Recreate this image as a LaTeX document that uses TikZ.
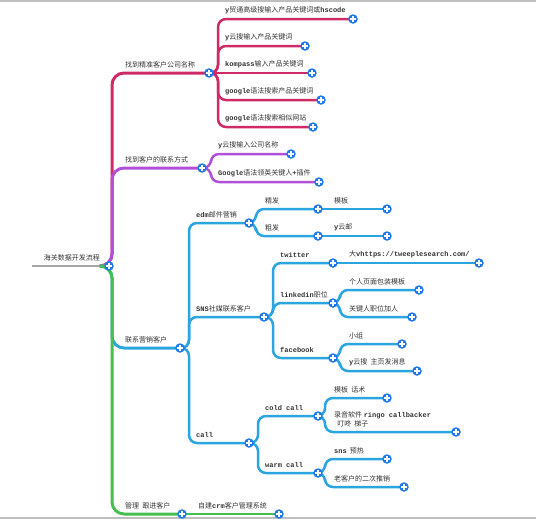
\documentclass[tikz,border=0pt]{standalone}
\usepackage{fontspec}
\setmainfont{Noto Sans CJK SC}
\newfontfamily\latfont{Liberation Mono}
\usepackage{xcolor}
\usetikzlibrary{calc, backgrounds}

\definecolor{rosebr}{HTML}{D02A66}
\definecolor{violetbr}{HTML}{B050D8}
\definecolor{skybr}{HTML}{2AA5E0}
\definecolor{greenbr}{HTML}{46BE50}
\definecolor{plusblue}{HTML}{1E78E6}
\definecolor{tagtext}{HTML}{333333}

\newcommand{\eng}[1]{{\latfont\bfseries #1}}

% parent, child, colour, text, offset of the bend
\newcommand{\branch}[5]{%
  \draw[link, #3] (#1.center) -- ++(#5,0) |- (#2.center);
  \node[tag] (#2-tag) at ($(#1.center |- #2.center)+(15,-4)$) {#4};
}
% same height: straight line
\newcommand{\stem}[4]{%
  \draw[link, #3] (#1.center) -- (#2.center);
  \node[tag] (#2-tag) at ($(#1.center)+(15,-4)$) {#4};
}

\tikzset{
  expander/.style={circle, fill=plusblue, minimum size=9.5pt, inner sep=0pt,
    path picture={\draw[white, line width=1.3pt]
      ($(path picture bounding box.center)+(-2.6pt,0)$) -- ++(5.2pt,0)
      ($(path picture bounding box.center)+(0,-2.6pt)$) -- ++(0,5.2pt);}},
  link/.style={line width=2.5pt, rounded corners=8pt},
  trunk/.style={line width=3pt, rounded corners=12pt},
  tag/.style={anchor=south west, inner sep=1pt, font=\fontsize{7}{8.5}\selectfont,
    text=tagtext, align=left}
}

\begin{document}
\begin{tikzpicture}[x=1pt, y=-1pt]
\useasboundingbox (0,0) rectangle (536,520);
\draw[black!25, line width=1.5pt] (0,1) -- (536,1);
\draw[black!25, line width=1.5pt] (0,518) -- (536,518);

% expanders
\node[expander] (root) at (109,266) {};
\coordinate (rootend) at (32,266);

\node[expander] (p0) at (209,73) {};
\node[expander] (p1) at (353,19) {};
\node[expander] (p2) at (305,46) {};
\node[expander] (p3) at (312,73) {};
\node[expander] (p4) at (321,100) {};
\node[expander] (p5) at (313,127) {};

\node[expander] (q0) at (202,168) {};
\node[expander] (q1) at (291,154) {};
\node[expander] (q2) at (319,182) {};

\node[expander] (b0) at (180,348) {};
\node[expander] (e0) at (249,223) {};
\node[expander] (e1) at (318,209) {};
\node[expander] (e11) at (387,209) {};
\node[expander] (e2) at (318,236) {};
\node[expander] (e21) at (387,236) {};
\node[expander] (s0) at (264,317) {};
\node[expander] (tw) at (333,263) {};
\node[expander] (tw1) at (479,263) {};
\node[expander] (li) at (333,303) {};
\node[expander] (li1) at (419,290) {};
\node[expander] (li2) at (412,317) {};
\node[expander] (fb) at (333,358) {};
\node[expander] (fb1) at (402,344) {};
\node[expander] (fb2) at (417,371) {};
\node[expander] (c0) at (249,443) {};
\node[expander] (cc) at (318,416) {};
\node[expander] (cc1) at (387,398) {};
\node[expander] (cc2) at (456,432) {};
\node[expander] (wc) at (318,473) {};
\node[expander] (wc1) at (387,459) {};
\node[expander] (wc2) at (404,487) {};

\node[expander] (g0) at (182,514) {};
\node[expander] (g1) at (279,514) {};

\begin{pgfonlayer}{background}
% root
\draw[black!35, line width=2pt] (rootend) -- (root.center);
\node[tag, anchor=south east] (root-tag) at ($(root.center)+(-8,-4)$) {海关数据开发流程};

% main branches
\draw[trunk, rosebr] (root.center) -- ++(3,0) |- (p0.center);
\node[tag] (p0-tag) at ($(root.center |- p0.center)+(15,-4)$) {找到精准客户公司名称};
\draw[trunk, violetbr] (root.center) -- ++(3,0) |- (q0.center);
\node[tag] (q0-tag) at ($(root.center |- q0.center)+(15,-4)$) {找到客户的联系方式};
\draw[trunk, skybr] (root.center) -- ++(3,0) |- (b0.center);
\node[tag] (b0-tag) at ($(root.center |- b0.center)+(15,-4)$) {联系营销客户};
\draw[trunk, greenbr] (root.center) -- ++(3,0) |- (g0.center);
\node[tag] (g0-tag) at ($(root.center |- g0.center)+(15,-4)$) {管理\ \ 跟进客户};

% company names
\branch{p0}{p1}{rosebr}{\eng{y}贸通高级搜输入产品关键词或\eng{hscode}}{9}
\branch{p0}{p2}{rosebr}{\eng{y}云搜输入产品关键词}{9}
\stem{p0}{p3}{rosebr}{\eng{kompass}输入产品关键词}
\branch{p0}{p4}{rosebr}{\eng{google}语法搜索产品关键词}{9}
\branch{p0}{p5}{rosebr}{\eng{google}语法搜索相似网站}{9}

% contacts
\branch{q0}{q1}{violetbr}{\eng{y}云搜输入公司名称}{9}
\branch{q0}{q2}{violetbr}{\eng{Google}语法领英关键人\eng{+}插件}{9}

% marketing
\branch{b0}{e0}{skybr}{\eng{edm}邮件营销}{9}
\branch{e0}{e1}{skybr}{精发}{7}
\stem{e1}{e11}{skybr}{模板}
\branch{e0}{e2}{skybr}{粗发}{7}
\stem{e2}{e21}{skybr}{\eng{y}云邮}
\branch{b0}{s0}{skybr}{\eng{SNS}社媒联系客户}{9}
\branch{s0}{tw}{skybr}{\eng{twitter}}{9}
\stem{tw}{tw1}{skybr}{大\eng{vhttps://tweeplesearch.com/}}
\branch{s0}{li}{skybr}{\eng{linkedin}职位}{9}
\branch{li}{li1}{skybr}{个人页面包装模板}{7}
\branch{li}{li2}{skybr}{关键人职位加人}{7}
\branch{s0}{fb}{skybr}{\eng{facebook}}{9}
\branch{fb}{fb1}{skybr}{小组}{7}
\branch{fb}{fb2}{skybr}{\eng{y}云搜\ \ 主页发消息}{7}
\branch{b0}{c0}{skybr}{\eng{call}}{9}
\branch{c0}{cc}{skybr}{\eng{cold call}}{9}
\branch{cc}{cc1}{skybr}{模板\ \ 话术}{7}
\branch{cc}{cc2}{skybr}{录音软件\ \eng{ringo callbacker}\\\ \ 叮咚\ \ 梯子}{7}
\branch{c0}{wc}{skybr}{\eng{warm call}}{9}
\branch{wc}{wc1}{skybr}{\eng{sns}\ \ 预热}{7}
\branch{wc}{wc2}{skybr}{老客户的二次推销}{7}

% follow-up
\stem{g0}{g1}{greenbr}{自建\eng{crm}客户管理系统}
\end{pgfonlayer}
\end{tikzpicture}
\end{document}
